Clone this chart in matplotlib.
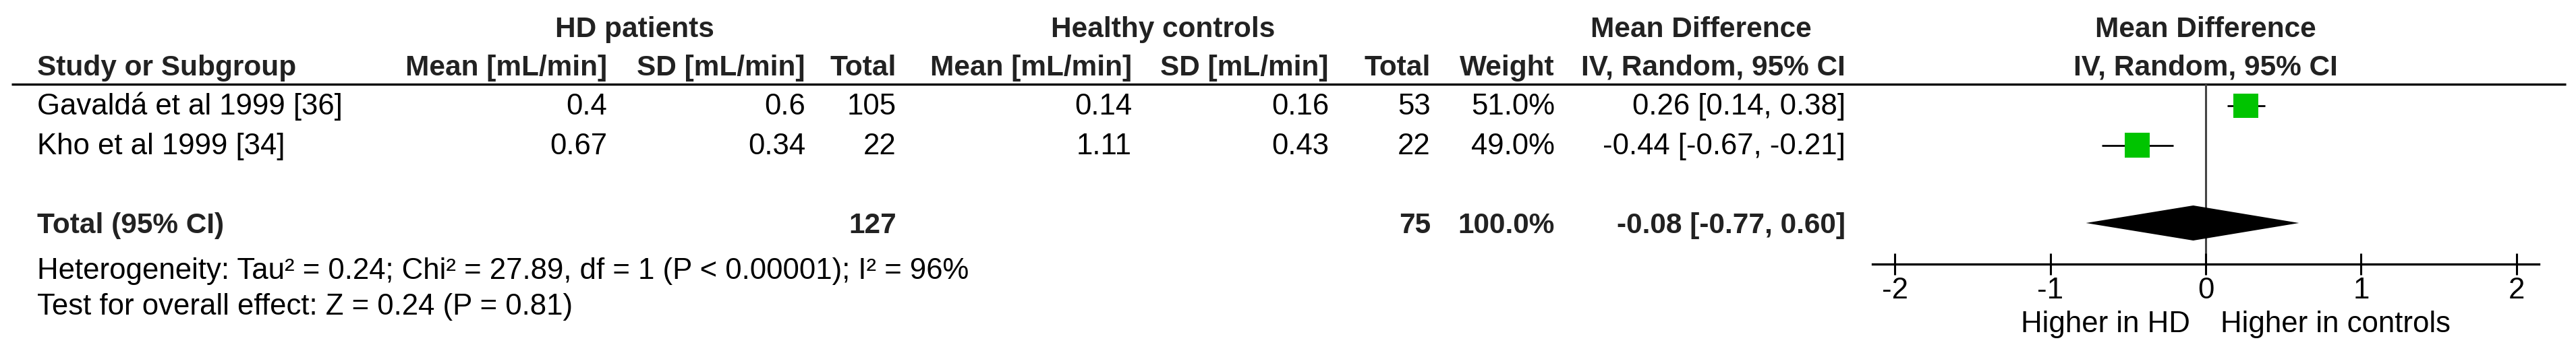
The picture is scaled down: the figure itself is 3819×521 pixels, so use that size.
import matplotlib
matplotlib.use("Agg")
import matplotlib.pyplot as plt
import numpy as np

# ---------------- data ----------------
studies = ["Gavaldá et al 1999 [36]", "Kho et al 1999 [34]"]
hd_mean = [0.4, 0.67]
hd_sd = [0.6, 0.34]
hd_n = [105, 22]
ctrl_mean = [0.14, 1.11]
ctrl_sd = [0.16, 0.43]
ctrl_n = [53, 22]
weights = [51.0, 49.0]
md = [0.26, -0.44]
ci_lo = [0.14, -0.67]
ci_hi = [0.38, -0.21]

total_label = "Total (95% CI)"
hd_total = 127
ctrl_total = 75
total_weight = 100.0
total_md = -0.08
total_lo = -0.77
total_hi = 0.60

heterogeneity = "Heterogeneity: Tau² = 0.24; Chi² = 27.89, df = 1 (P < 0.00001); I² = 96%"
overall = "Test for overall effect: Z = 0.24 (P = 0.81)"

group_headers = ["HD patients", "Healthy controls", "Mean Difference", "Mean Difference"]
col_headers = ["Study or Subgroup", "Mean [mL/min]", "SD [mL/min]", "Total",
               "Mean [mL/min]", "SD [mL/min]", "Total", "Weight",
               "IV, Random, 95% CI", "IV, Random, 95% CI"]
xticks = [-2, -1, 0, 1, 2]
dir_left = "Higher in HD"
dir_right = "Higher in controls"

# ---------------- layout ----------------
plt.rcParams['font.family'] = ['Liberation Sans', 'DejaVu Sans']
plt.rcParams['axes.unicode_minus'] = False

W, H = 3819, 521
fig = plt.figure(figsize=(W / 100, H / 100), dpi=100)
fig.patch.set_facecolor('white')

tab = fig.add_axes([0, 0, 1, 1])
tab.set_xlim(0, W)
tab.set_ylim(H, 0)
tab.axis('off')

FS = 31.5      # regular text size
FSB = 30.5     # bold text size
TXT = '#000000'
BTXT = '#222222'

# column right edges (px)
x_name = 55
x_hd_mean, x_hd_sd, x_hd_n = 900, 1194, 1329
x_c_mean, x_c_sd, x_c_n = 1678, 1970, 2121
x_w, x_ci = 2305, 2736

# baselines (px from top)
y_g, y_h = 55, 112
y_rows = [170, 229]
y_tot = 346
y_het, y_test = 414, 467
line_y = 125

def t(x, y, s, ha='left', bold=False, size=None):
    tab.text(x, y, s, ha=ha, va='baseline',
             fontsize=size or (FSB if bold else FS),
             fontweight='bold' if bold else 'normal',
             color=BTXT if bold else TXT)

# plot axes geometry
px_left, px_right = 2775.6, 3764.4
xmin, xmax = -2.145, 2.145
px_top, px_bot = line_y, 392

def x2px(v):
    return px_left + (v - xmin) / (xmax - xmin) * (px_right - px_left)

# group headers
t(941, y_g, group_headers[0], ha='center', bold=True)
t(1724, y_g, group_headers[1], ha='center', bold=True)
t(2522, y_g, group_headers[2], ha='center', bold=True)
t(x2px(0), y_g, group_headers[3], ha='center', bold=True)

# column headers
t(x_name, y_h, col_headers[0], bold=True)
for xr, s in zip([x_hd_mean, x_hd_sd, x_hd_n, x_c_mean, x_c_sd, x_c_n, x_w, x_ci],
                 col_headers[1:9]):
    t(xr, y_h, s, ha='right', bold=True)
t(x2px(0), y_h, col_headers[9], ha='center', bold=True)

# header rule
tab.plot([17, 3804], [line_y, line_y], color='black', lw=2.4, solid_capstyle='butt')

# study rows
for i, name in enumerate(studies):
    y = y_rows[i]
    t(x_name, y, name)
    t(x_hd_mean, y, f"{hd_mean[i]:g}", ha='right')
    t(x_hd_sd, y, f"{hd_sd[i]:g}", ha='right')
    t(x_hd_n, y, f"{hd_n[i]}", ha='right')
    t(x_c_mean, y, f"{ctrl_mean[i]:g}", ha='right')
    t(x_c_sd, y, f"{ctrl_sd[i]:g}", ha='right')
    t(x_c_n, y, f"{ctrl_n[i]}", ha='right')
    t(x_w, y, f"{weights[i]:.1f}%", ha='right')
    t(x_ci, y, f"{md[i]:.2f} [{ci_lo[i]:.2f}, {ci_hi[i]:.2f}]", ha='right')

# total row
t(x_name, y_tot, total_label, bold=True)
t(x_hd_n, y_tot, f"{hd_total}", ha='right', bold=True)
t(x_c_n, y_tot, f"{ctrl_total}", ha='right', bold=True)
t(x_w, y_tot, f"{total_weight:.1f}%", ha='right', bold=True)
t(x_ci, y_tot, f"{total_md:.2f} [{total_lo:.2f}, {total_hi:.2f}]", ha='right', bold=True)

t(x_name, y_het, heterogeneity)
t(x_name, y_test, overall)

# ---------------- forest plot ----------------
ax = fig.add_axes([px_left / W, (H - px_bot) / H,
                   (px_right - px_left) / W, (px_bot - px_top) / H])
ax.patch.set_visible(False)
ax.set_xlim(xmin, xmax)
ax.set_ylim(px_bot, px_top)
for s in ['top', 'left', 'right']:
    ax.spines[s].set_visible(False)
ax.spines['bottom'].set_linewidth(2.4)
ax.set_yticks([])
ax.set_xticks(xticks)
ax.set_xticklabels([str(v) for v in xticks])
ax.tick_params(axis='x', direction='inout', length=23, width=2.2, pad=2,
               labelsize=FS, colors='black')

ax.axvline(0, color='#444444', lw=2.2, zorder=1)

row_mid = [157, 215.5]
tot_mid = 331
ax.hlines(row_mid, ci_lo, ci_hi, color='black', lw=2.0, zorder=2)
ax.scatter(md, row_mid, marker='s', s=[13.9 * w for w in weights],
           color='#00C400', edgecolors='none', zorder=3)

half_h = 26
ax.fill([total_lo, total_md, total_hi, total_md],
        [tot_mid, tot_mid - half_h, tot_mid, tot_mid + half_h],
        color='black', lw=0, zorder=3)

# direction labels
t(x2px(0) - 23, 493, dir_left, ha='right')
t(x2px(0) + 22, 493, dir_right, ha='left')

fig.savefig('out.png', dpi=100, facecolor='white')
